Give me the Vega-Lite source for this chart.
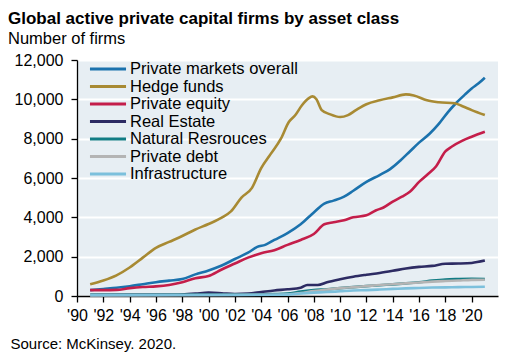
{
  "$schema": "https://vega.github.io/schema/vega-lite/v6.json",
  "width": 421,
  "height": 236,
  "autosize": {"type": "none"},
  "padding": {"left": 77, "top": 60, "right": 11, "bottom": 57},
  "background": "white",
  "config": {
    "font": "Liberation Sans",
    "view": {"fill": "#e7eef3", "stroke": null}
  },
  "title": {
    "text": "Global active private capital firms by asset class",
    "subtitle": "Number of firms",
    "anchor": "start",
    "frame": "group",
    "orient": "top",
    "dx": -69,
    "fontSize": 17,
    "fontWeight": "bold",
    "color": "black",
    "subtitleFontSize": 16.5,
    "subtitleColor": "black",
    "subtitlePadding": 3,
    "offset": 4
  },
  "data": {
    "values": [
      {"year": 1991, "series": "Private markets overall", "value": 300},
      {"year": 1992, "series": "Private markets overall", "value": 360},
      {"year": 1993, "series": "Private markets overall", "value": 420},
      {"year": 1994, "series": "Private markets overall", "value": 500},
      {"year": 1995, "series": "Private markets overall", "value": 600},
      {"year": 1996, "series": "Private markets overall", "value": 700},
      {"year": 1997, "series": "Private markets overall", "value": 780},
      {"year": 1998, "series": "Private markets overall", "value": 860},
      {"year": 1999, "series": "Private markets overall", "value": 1100},
      {"year": 2000, "series": "Private markets overall", "value": 1300},
      {"year": 2001, "series": "Private markets overall", "value": 1550},
      {"year": 2002, "series": "Private markets overall", "value": 1880},
      {"year": 2003, "series": "Private markets overall", "value": 2200},
      {"year": 2003.7, "series": "Private markets overall", "value": 2500},
      {"year": 2004.3, "series": "Private markets overall", "value": 2600},
      {"year": 2005, "series": "Private markets overall", "value": 2850},
      {"year": 2006, "series": "Private markets overall", "value": 3200},
      {"year": 2007, "series": "Private markets overall", "value": 3650},
      {"year": 2008, "series": "Private markets overall", "value": 4250},
      {"year": 2008.8, "series": "Private markets overall", "value": 4700},
      {"year": 2009.5, "series": "Private markets overall", "value": 4850},
      {"year": 2010.3, "series": "Private markets overall", "value": 5050},
      {"year": 2011, "series": "Private markets overall", "value": 5350},
      {"year": 2012, "series": "Private markets overall", "value": 5800},
      {"year": 2013, "series": "Private markets overall", "value": 6150},
      {"year": 2013.8, "series": "Private markets overall", "value": 6450},
      {"year": 2014.6, "series": "Private markets overall", "value": 6900},
      {"year": 2015.3, "series": "Private markets overall", "value": 7350},
      {"year": 2016, "series": "Private markets overall", "value": 7800},
      {"year": 2016.8, "series": "Private markets overall", "value": 8250},
      {"year": 2017.5, "series": "Private markets overall", "value": 8750},
      {"year": 2018.2, "series": "Private markets overall", "value": 9350},
      {"year": 2018.8, "series": "Private markets overall", "value": 9800},
      {"year": 2019.5, "series": "Private markets overall", "value": 10250},
      {"year": 2020, "series": "Private markets overall", "value": 10550},
      {"year": 2020.5, "series": "Private markets overall", "value": 10800},
      {"year": 2021, "series": "Private markets overall", "value": 11100},

      {"year": 1991, "series": "Hedge funds", "value": 600},
      {"year": 1992, "series": "Hedge funds", "value": 790},
      {"year": 1993, "series": "Hedge funds", "value": 1050},
      {"year": 1994, "series": "Hedge funds", "value": 1450},
      {"year": 1995, "series": "Hedge funds", "value": 1950},
      {"year": 1996, "series": "Hedge funds", "value": 2450},
      {"year": 1997, "series": "Hedge funds", "value": 2750},
      {"year": 1998, "series": "Hedge funds", "value": 3050},
      {"year": 1999, "series": "Hedge funds", "value": 3380},
      {"year": 2000, "series": "Hedge funds", "value": 3660},
      {"year": 2001, "series": "Hedge funds", "value": 3980},
      {"year": 2001.7, "series": "Hedge funds", "value": 4300},
      {"year": 2002.5, "series": "Hedge funds", "value": 5000},
      {"year": 2003.3, "series": "Hedge funds", "value": 5500},
      {"year": 2004, "series": "Hedge funds", "value": 6500},
      {"year": 2004.7, "series": "Hedge funds", "value": 7200},
      {"year": 2005.5, "series": "Hedge funds", "value": 8000},
      {"year": 2006.1, "series": "Hedge funds", "value": 8850},
      {"year": 2006.6, "series": "Hedge funds", "value": 9200},
      {"year": 2007.1, "series": "Hedge funds", "value": 9700},
      {"year": 2007.6, "series": "Hedge funds", "value": 10050},
      {"year": 2007.9, "series": "Hedge funds", "value": 10150},
      {"year": 2008.2, "series": "Hedge funds", "value": 10000},
      {"year": 2008.6, "series": "Hedge funds", "value": 9450},
      {"year": 2009.2, "series": "Hedge funds", "value": 9250},
      {"year": 2010, "series": "Hedge funds", "value": 9100},
      {"year": 2010.6, "series": "Hedge funds", "value": 9200},
      {"year": 2011.2, "series": "Hedge funds", "value": 9450},
      {"year": 2012, "series": "Hedge funds", "value": 9750},
      {"year": 2013, "series": "Hedge funds", "value": 9950},
      {"year": 2014, "series": "Hedge funds", "value": 10100},
      {"year": 2015, "series": "Hedge funds", "value": 10250},
      {"year": 2015.6, "series": "Hedge funds", "value": 10200},
      {"year": 2016.6, "series": "Hedge funds", "value": 9950},
      {"year": 2017.5, "series": "Hedge funds", "value": 9850},
      {"year": 2018.7, "series": "Hedge funds", "value": 9800},
      {"year": 2019.3, "series": "Hedge funds", "value": 9650},
      {"year": 2020, "series": "Hedge funds", "value": 9450},
      {"year": 2021, "series": "Hedge funds", "value": 9200},

      {"year": 1991, "series": "Private equity", "value": 300},
      {"year": 1992, "series": "Private equity", "value": 300},
      {"year": 1993, "series": "Private equity", "value": 310},
      {"year": 1994, "series": "Private equity", "value": 400},
      {"year": 1995, "series": "Private equity", "value": 460},
      {"year": 1996, "series": "Private equity", "value": 490},
      {"year": 1997, "series": "Private equity", "value": 560},
      {"year": 1998, "series": "Private equity", "value": 700},
      {"year": 1999, "series": "Private equity", "value": 900},
      {"year": 2000, "series": "Private equity", "value": 1020},
      {"year": 2001, "series": "Private equity", "value": 1350},
      {"year": 2002, "series": "Private equity", "value": 1650},
      {"year": 2003, "series": "Private equity", "value": 1950},
      {"year": 2004, "series": "Private equity", "value": 2180},
      {"year": 2005, "series": "Private equity", "value": 2330},
      {"year": 2006, "series": "Private equity", "value": 2600},
      {"year": 2007, "series": "Private equity", "value": 2850},
      {"year": 2008, "series": "Private equity", "value": 3150},
      {"year": 2008.8, "series": "Private equity", "value": 3650},
      {"year": 2009.5, "series": "Private equity", "value": 3750},
      {"year": 2010.3, "series": "Private equity", "value": 3850},
      {"year": 2011, "series": "Private equity", "value": 4000},
      {"year": 2012, "series": "Private equity", "value": 4100},
      {"year": 2012.7, "series": "Private equity", "value": 4350},
      {"year": 2013.3, "series": "Private equity", "value": 4500},
      {"year": 2014, "series": "Private equity", "value": 4800},
      {"year": 2014.7, "series": "Private equity", "value": 5050},
      {"year": 2015.3, "series": "Private equity", "value": 5300},
      {"year": 2016, "series": "Private equity", "value": 5800},
      {"year": 2016.6, "series": "Private equity", "value": 6150},
      {"year": 2017.3, "series": "Private equity", "value": 6600},
      {"year": 2018, "series": "Private equity", "value": 7350},
      {"year": 2018.5, "series": "Private equity", "value": 7600},
      {"year": 2019.3, "series": "Private equity", "value": 7900},
      {"year": 2020, "series": "Private equity", "value": 8100},
      {"year": 2021, "series": "Private equity", "value": 8350},

      {"year": 1991, "series": "Real Estate", "value": 50},
      {"year": 1995, "series": "Real Estate", "value": 60},
      {"year": 1997, "series": "Real Estate", "value": 60},
      {"year": 1998, "series": "Real Estate", "value": 80},
      {"year": 1999, "series": "Real Estate", "value": 120},
      {"year": 2000, "series": "Real Estate", "value": 170},
      {"year": 2001, "series": "Real Estate", "value": 140},
      {"year": 2002, "series": "Real Estate", "value": 100},
      {"year": 2003, "series": "Real Estate", "value": 120},
      {"year": 2004, "series": "Real Estate", "value": 200},
      {"year": 2005, "series": "Real Estate", "value": 280},
      {"year": 2006, "series": "Real Estate", "value": 340},
      {"year": 2007, "series": "Real Estate", "value": 420},
      {"year": 2007.5, "series": "Real Estate", "value": 560},
      {"year": 2008.3, "series": "Real Estate", "value": 560},
      {"year": 2009, "series": "Real Estate", "value": 700},
      {"year": 2010, "series": "Real Estate", "value": 850},
      {"year": 2011, "series": "Real Estate", "value": 980},
      {"year": 2012, "series": "Real Estate", "value": 1080},
      {"year": 2013, "series": "Real Estate", "value": 1170},
      {"year": 2014, "series": "Real Estate", "value": 1280},
      {"year": 2015, "series": "Real Estate", "value": 1400},
      {"year": 2016, "series": "Real Estate", "value": 1480},
      {"year": 2017, "series": "Real Estate", "value": 1530},
      {"year": 2018, "series": "Real Estate", "value": 1640},
      {"year": 2019, "series": "Real Estate", "value": 1650},
      {"year": 2020, "series": "Real Estate", "value": 1680},
      {"year": 2021, "series": "Real Estate", "value": 1800},

      {"year": 1991, "series": "Natural Resrouces", "value": 60},
      {"year": 1995, "series": "Natural Resrouces", "value": 60},
      {"year": 2000, "series": "Natural Resrouces", "value": 70},
      {"year": 2003, "series": "Natural Resrouces", "value": 80},
      {"year": 2005, "series": "Natural Resrouces", "value": 100},
      {"year": 2006, "series": "Natural Resrouces", "value": 120},
      {"year": 2007, "series": "Natural Resrouces", "value": 230},
      {"year": 2008, "series": "Natural Resrouces", "value": 300},
      {"year": 2009, "series": "Natural Resrouces", "value": 340},
      {"year": 2010, "series": "Natural Resrouces", "value": 400},
      {"year": 2011, "series": "Natural Resrouces", "value": 450},
      {"year": 2012, "series": "Natural Resrouces", "value": 500},
      {"year": 2013, "series": "Natural Resrouces", "value": 550},
      {"year": 2014, "series": "Natural Resrouces", "value": 590},
      {"year": 2015, "series": "Natural Resrouces", "value": 640},
      {"year": 2016, "series": "Natural Resrouces", "value": 700},
      {"year": 2017, "series": "Natural Resrouces", "value": 780},
      {"year": 2018, "series": "Natural Resrouces", "value": 840},
      {"year": 2019, "series": "Natural Resrouces", "value": 860},
      {"year": 2020, "series": "Natural Resrouces", "value": 870},
      {"year": 2021, "series": "Natural Resrouces", "value": 860},

      {"year": 1991, "series": "Private debt", "value": 30},
      {"year": 2000, "series": "Private debt", "value": 50},
      {"year": 2004, "series": "Private debt", "value": 60},
      {"year": 2006, "series": "Private debt", "value": 80},
      {"year": 2007, "series": "Private debt", "value": 150},
      {"year": 2008, "series": "Private debt", "value": 250},
      {"year": 2009, "series": "Private debt", "value": 330},
      {"year": 2010, "series": "Private debt", "value": 400},
      {"year": 2011, "series": "Private debt", "value": 450},
      {"year": 2012, "series": "Private debt", "value": 500},
      {"year": 2013, "series": "Private debt", "value": 560},
      {"year": 2014, "series": "Private debt", "value": 600},
      {"year": 2015, "series": "Private debt", "value": 640},
      {"year": 2016, "series": "Private debt", "value": 690},
      {"year": 2017, "series": "Private debt", "value": 730},
      {"year": 2018, "series": "Private debt", "value": 760},
      {"year": 2019, "series": "Private debt", "value": 790},
      {"year": 2020, "series": "Private debt", "value": 820},
      {"year": 2021, "series": "Private debt", "value": 830},

      {"year": 1991, "series": "Infrastructure", "value": 40},
      {"year": 2000, "series": "Infrastructure", "value": 50},
      {"year": 2005, "series": "Infrastructure", "value": 60},
      {"year": 2006, "series": "Infrastructure", "value": 70},
      {"year": 2007, "series": "Infrastructure", "value": 130},
      {"year": 2008, "series": "Infrastructure", "value": 170},
      {"year": 2009, "series": "Infrastructure", "value": 200},
      {"year": 2010, "series": "Infrastructure", "value": 240},
      {"year": 2011, "series": "Infrastructure", "value": 280},
      {"year": 2012, "series": "Infrastructure", "value": 300},
      {"year": 2013, "series": "Infrastructure", "value": 330},
      {"year": 2014, "series": "Infrastructure", "value": 360},
      {"year": 2015, "series": "Infrastructure", "value": 390},
      {"year": 2016, "series": "Infrastructure", "value": 410},
      {"year": 2017, "series": "Infrastructure", "value": 430},
      {"year": 2018, "series": "Infrastructure", "value": 440},
      {"year": 2019, "series": "Infrastructure", "value": 450},
      {"year": 2020, "series": "Infrastructure", "value": 460},
      {"year": 2021, "series": "Infrastructure", "value": 470}
    ]
  },
  "mark": {"type": "line", "strokeWidth": 2.6, "interpolate": "monotone"},
  "encoding": {
    "x": {
      "field": "year",
      "type": "quantitative",
      "scale": {"domain": [1990, 2022], "nice": false, "zero": false},
      "axis": {
        "values": [1990, 1992, 1994, 1996, 1998, 2000, 2002, 2004, 2006, 2008, 2010, 2012, 2014, 2016, 2018, 2020],
        "labelExpr": "\"'\" + substring(toString(datum.value), 2, 4)",
        "labelOverlap": false,
        "labelFlush": false,
        "labelFontSize": 16,
        "labelColor": "black",
        "labelPadding": 5,
        "tickSize": 6,
        "tickColor": "black",
        "tickWidth": 1.3,
        "domainColor": "black",
        "domainWidth": 1.3,
        "grid": false,
        "title": "Source: McKinsey. 2020.",
        "titleFontSize": 15,
        "titleFontWeight": "normal",
        "titleColor": "black",
        "titleAnchor": "start",
        "titleAlign": "left",
        "titleBaseline": "alphabetic",
        "titleX": -67,
        "titleY": 52
      }
    },
    "y": {
      "field": "value",
      "type": "quantitative",
      "scale": {"domain": [0, 12000], "nice": false},
      "axis": {
        "values": [0, 2000, 4000, 6000, 8000, 10000, 12000],
        "format": ",d",
        "labelFontSize": 16,
        "labelColor": "black",
        "labelPadding": 8,
        "tickSize": 6,
        "tickColor": "black",
        "tickWidth": 1.3,
        "domainColor": "black",
        "domainWidth": 1.3,
        "grid": true,
        "gridColor": "white",
        "gridWidth": 1.8,
        "title": null
      }
    },
    "color": {
      "field": "series",
      "type": "nominal",
      "sort": ["Private markets overall", "Hedge funds", "Private equity", "Real Estate", "Natural Resrouces", "Private debt", "Infrastructure"],
      "scale": {
        "domain": ["Private markets overall", "Hedge funds", "Private equity", "Real Estate", "Natural Resrouces", "Private debt", "Infrastructure"],
        "range": ["#1b72ad", "#a88a33", "#c41e4a", "#2d2b63", "#127c84", "#b4b4b4", "#7cc0dc"]
      },
      "legend": {
        "title": null,
        "orient": "none",
        "legendX": 11,
        "legendY": 1,
        "symbolType": "stroke",
        "symbolSize": 1300,
        "symbolStrokeWidth": 3,
        "clipHeight": 16,
        "labelFontSize": 16.5,
        "labelLimit": 400,
        "labelColor": "black",
        "labelOffset": 2,
        "rowPadding": 0.5,
        "padding": 0
      }
    }
  }
}
